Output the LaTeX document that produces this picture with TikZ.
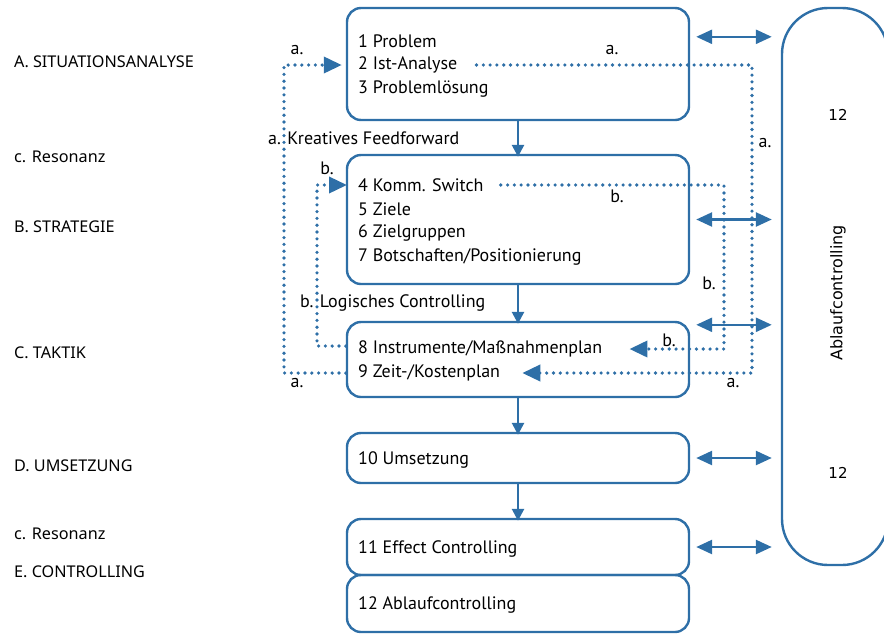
\documentclass[tikz,border=0pt]{standalone}
\usepackage{fontspec}
\setmainfont{PT Sans}
\newfontfamily\sidefont{Noto Sans}
\newfontfamily\ctrlfont{DejaVu Sans}
\usetikzlibrary{arrows.meta, positioning, calc}
\definecolor{flowblue}{HTML}{2E6FA7}

\begin{document}
\begin{tikzpicture}[
  x=1pt, y=-1pt,
  box/.style={
    rectangle, rounded corners=14pt, draw=flowblue, line width=2.4pt,
    minimum width=342pt, inner sep=0pt,
  },
  ctrlbox/.style={
    rectangle, rounded corners=46pt, draw=flowblue, line width=2.4pt,
    minimum width=106pt, minimum height=557pt, inner sep=0pt,
  },
  txt/.style={anchor=west, inner sep=0pt, font=\fontsize{18}{21}\selectfont},
  side/.style={anchor=west, inner sep=0pt, font=\sidefont\fontsize{16.2}{19}\selectfont},
  tag/.style={inner sep=0pt, font=\fontsize{18}{21}\selectfont},
  flow/.style={draw=flowblue, line width=2.6pt, -{Triangle[length=12pt,width=12pt]}},
  dbl/.style={draw=flowblue, line width=2.6pt,
    {Triangle[length=16pt,width=14pt]}-{Triangle[length=16pt,width=14pt]}},
  fb/.style={draw=flowblue, line width=3.6pt, line cap=round,
    dash pattern=on 0pt off 6.8pt,
    -{Triangle[length=18pt,width=16pt,line cap=butt]}},
]
  \useasboundingbox (0,0) rectangle (884,633);

  % Phases
  \node[side] (sA) at (14,62) {A. SITUATIONSANALYSE};
  \node[side] (sR1) at (14,157) {c. Resonanz};
  \node[side] (sB) at (14,227) {B. STRATEGIE};
  \node[side] (sC) at (14,353) {C. TAKTIK};
  \node[side] (sD) at (14,466) {D. UMSETZUNG};
  \node[side] (sR2) at (14,534) {c. Resonanz};
  \node[side] (sE) at (14,572) {E. CONTROLLING};

  % Boxes
  \node[box, minimum height=112pt] (p1) at (518,64) {};
  \node[box, minimum height=129pt] (p2) at (518,219.5) {};
  \node[box, minimum height=75pt] (p3) at (518,359.5) {};
  \node[box, minimum height=50pt] (p4) at (518,458) {};
  \node[box, minimum height=56pt] (p5) at (518,547) {};
  \node[box, minimum height=57pt] (p6) at (518,603.5) {};
  \node[ctrlbox] (ac) at (835,286.5) {};

  % Box texts
  \node[txt] (t1) at (358,41) {1 Problem};
  \node[txt] (t2) at (358,65) {2 Ist-Analyse};
  \node[txt] (t3) at (358,89) {3 Problemlösung};
  \node[txt] (t4) at (358,185) {4 Komm. Switch};
  \node[txt] (t5) at (358,209) {5 Ziele};
  \node[txt] (t6) at (358,233) {6 Zielgruppen};
  \node[txt] (t7) at (358,257) {7 Botschaften/Positionierung};
  \node[txt] (t8) at (358,349) {8 Instrumente/Maßnahmenplan};
  \node[txt] (t9) at (358,373) {9 Zeit-/Kostenplan};
  \node[txt] (t10) at (358,460) {10 Umsetzung};
  \node[txt] (t11) at (358,549) {11 Effect Controlling};
  \node[txt] (t12) at (358,605) {12 Ablaufcontrolling};

  % Ablaufcontrolling column
  \node[font=\ctrlfont\fontsize{15}{18}\selectfont] (n12a) at (838,115) {12};
  \node[font=\ctrlfont\fontsize{15}{18}\selectfont] (n12b) at (838,473) {12};
  \node[font=\ctrlfont\fontsize{16}{19}\selectfont, rotate=90] (acl) at (838,293) {Ablaufcontrolling};

  % Main flow
  \draw[flow] ([yshift=2pt]p1.south) -- ([yshift=-3pt]p2.north);
  \draw[flow] ([yshift=2pt]p2.south) -- ([yshift=-3pt]p3.north);
  \draw[flow] ([yshift=2pt]p3.south) -- ([yshift=-3pt]p4.north);
  \draw[flow] ([yshift=2pt]p4.south) -- ([yshift=-3pt]p5.north);

  % Links to Ablaufcontrolling
  \draw[dbl] ($(p1.north east)+(6,30)$) -- ($(ac.west |- p1.north)+(-9,30)$);
  \draw[dbl] ([xshift=6pt]p2.east) -- ([xshift=-9pt]ac.west |- p2.east);
  \draw[dbl] ($(p3.north east)+(6,4)$) -- ($(ac.west |- p3.north)+(-9,4)$);
  \draw[dbl] ([xshift=6pt]p4.east) -- ([xshift=-9pt]ac.west |- p4.east);
  \draw[dbl] ([xshift=6pt]p5.east) -- ([xshift=-9pt]ac.west |- p5.east);

  % a. Kreatives Feedforward
  \coordinate (aL) at (284,0);
  \coordinate (aR) at (752,0);
  \draw[fb] (p3.west |- t9) -| (aL |- t2) -- ([xshift=-4pt]p1.west |- t2);
  \draw[fb] ([xshift=19pt]t2.east) -| (aR |- t9) -- ([xshift=22pt]t9.east);

  % b. Logisches Controlling
  \coordinate (bL) at (317,0);
  \coordinate (bR) at (724,0);
  \draw[fb] (p3.west |- 0,346) -| (bL |- t4) -- ([xshift=-11pt]t4.west);
  \draw[fb] ([xshift=17pt]t4.east) -| (bR |- t8) -- ([xshift=27pt]t8.east);

  % Tags
  \node[tag] (la1) at (297,50) {a.};
  \node[tag] (la2) at (612,50) {a.};
  \node[tag] (la3) at (765,143) {a.};
  \node[tag] (la4) at (297,383) {a.};
  \node[tag] (la5) at (733,383) {a.};
  \node[tag] (lb1) at (327,168) {b.};
  \node[tag] (lb2) at (617,196) {b.};
  \node[tag] (lb3) at (709,283) {b.};
  \node[tag] (lb4) at (669,340) {b.};
  \node[tag, anchor=west] (kf) at (268,138) {a. Kreatives Feedforward};
  \node[tag, anchor=west] (lc) at (300,303) {b. Logisches Controlling};
\end{tikzpicture}
\end{document}
